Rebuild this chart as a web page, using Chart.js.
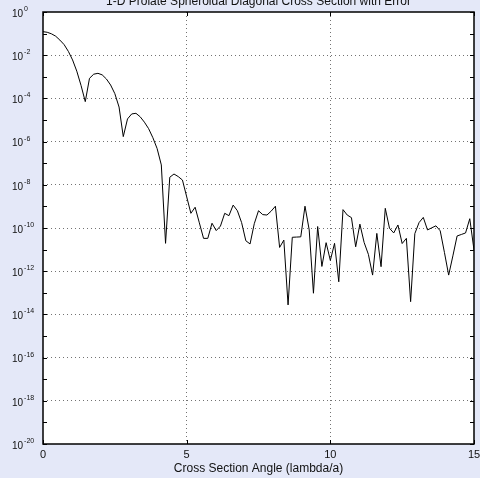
<!DOCTYPE html>
<html>
<head>
<meta charset="utf-8">
<script src="https://cdn.jsdelivr.net/npm/chart.js@4/dist/chart.umd.min.js"></script>
<style>
  html, body { margin: 0; padding: 0; background: #e4e8f8; }
  canvas { display: block; }
</style>
</head>
<body>
<canvas id="chart" width="480" height="478"></canvas>
<script>
// Sample angles (lambda/a)
const angle = [
  0.000, 0.147, 0.294, 0.441, 0.588, 0.735, 0.882, 1.029, 1.176, 1.324,
  1.471, 1.618, 1.765, 1.912, 2.059, 2.206, 2.353, 2.500, 2.647, 2.794,
  2.941, 3.088, 3.235, 3.382, 3.529, 3.676, 3.824, 3.971, 4.118, 4.265,
  4.412, 4.559, 4.706, 4.853, 5.000, 5.147, 5.294, 5.441, 5.588, 5.735,
  5.882, 6.029, 6.176, 6.324, 6.471, 6.618, 6.765, 6.912, 7.059, 7.206,
  7.353, 7.500, 7.647, 7.794, 7.941, 8.088, 8.235, 8.382, 8.529, 8.676,
  8.824, 8.971, 9.118, 9.265, 9.412, 9.559, 9.706, 9.853, 10.000, 10.147,
  10.294, 10.441, 10.588, 10.735, 10.882, 11.029, 11.176, 11.324, 11.471, 11.618,
  11.765, 11.912, 12.059, 12.206, 12.353, 12.500, 12.647, 12.794, 12.941, 13.088,
  13.235, 13.382, 13.529, 13.676, 13.824, 13.971, 14.118, 14.265, 14.412, 14.559,
  14.706, 14.853, 15.000
];

// Cross section error at each angle
const crossSection = [
  1.23e-1, 1.15e-1, 9.77e-2, 7.59e-2, 5.01e-2, 3.09e-2, 1.51e-2, 6.03e-3, 1.82e-3, 3.98e-4,
  7.08e-5, 8.51e-4, 1.32e-3, 1.45e-3, 1.23e-3, 7.94e-4, 4.17e-4, 1.66e-4, 3.98e-5, 1.70e-6,
  1.12e-5, 1.91e-5, 2.04e-5, 1.41e-5, 7.94e-6, 3.98e-6, 1.51e-6, 4.79e-7, 8.32e-8, 1.95e-11,
  2.24e-8, 3.16e-8, 2.40e-8, 1.66e-8, 2.82e-9, 4.79e-10, 9.12e-10, 1.74e-10, 3.31e-11, 3.31e-11,
  1.66e-10, 7.59e-11, 1.23e-10, 4.79e-10, 3.72e-10, 1.15e-9, 6.31e-10, 1.78e-10, 2.57e-11, 1.82e-11,
  1.58e-10, 6.31e-10, 4.17e-10, 3.98e-10, 6.03e-10, 1.02e-9, 1.26e-11, 2.75e-11, 2.75e-14, 3.72e-11,
  3.80e-11, 3.89e-11, 1.02e-9, 8.13e-11, 9.55e-14, 1.17e-10, 1.66e-12, 2.09e-11, 3.16e-12, 1.95e-11,
  3.24e-13, 7.08e-10, 3.98e-10, 3.02e-10, 1.35e-11, 1.51e-10, 2.14e-11, 6.03e-12, 6.61e-13, 5.62e-11,
  1.62e-12, 8.13e-10, 9.77e-11, 5.89e-11, 1.38e-10, 1.91e-11, 3.31e-11, 3.89e-14, 5.50e-11, 1.78e-10,
  3.09e-10, 8.13e-11, 1.02e-10, 1.26e-10, 7.41e-11, 7.41e-12, 6.61e-13, 5.13e-12, 4.27e-11, 5.01e-11,
  5.89e-11, 2.69e-10, 9.55e-12
];

// Axis ticks
const xTicks = [0, 5, 10, 15];
const yLabelExponents = [0, -2, -4, -6, -8, -10, -12, -14, -16, -18, -20];
const yDecadeExponents = [0, -1, -2, -3, -4, -5, -6, -7, -8, -9, -10, -11, -12, -13, -14, -15, -16, -17, -18, -19, -20];

const titleText = '1-D Prolate Spheroidal Diagonal Cross Section with Error';
const xTitleText = 'Cross Section Angle (lambda/a)';

const FONT = '"Liberation Sans", Arial, Helvetica, sans-serif';
const GRID_COLOR = 'rgba(0,0,0,0.55)';

const frameAndLabels = {
  id: 'frameAndLabels',
  beforeDraw(chart) {
    const { ctx, chartArea: a } = chart;
    ctx.save();
    ctx.fillStyle = '#ffffff';
    ctx.fillRect(a.left, a.top, a.right - a.left, a.bottom - a.top);
    ctx.restore();
  },
  afterDraw(chart) {
    const { ctx, chartArea: a } = chart;
    const xs = chart.scales.x, ys = chart.scales.y;
    ctx.save();
    ctx.strokeStyle = '#000';
    ctx.lineWidth = 1;
    // inward tick marks on left and right
    yDecadeExponents.forEach(e => {
      const y = Math.round(ys.getPixelForValue(Math.pow(10, e))) + 0.5;
      ctx.beginPath();
      ctx.moveTo(a.left, y); ctx.lineTo(a.left + 4, y);
      ctx.moveTo(a.right, y); ctx.lineTo(a.right - 4, y);
      ctx.stroke();
    });
    // inward tick marks on top and bottom
    xTicks.forEach(v => {
      const x = Math.round(xs.getPixelForValue(v)) + 0.5;
      ctx.beginPath();
      ctx.moveTo(x, a.bottom); ctx.lineTo(x, a.bottom - 4);
      ctx.moveTo(x, a.top); ctx.lineTo(x, a.top + 4);
      ctx.stroke();
    });
    // frame
    ctx.lineWidth = 1.5;
    ctx.strokeRect(a.left, a.top, a.right - a.left, a.bottom - a.top);

    ctx.fillStyle = '#111';
    // y labels: 10 with superscript exponent
    yLabelExponents.forEach(e => {
      const y = ys.getPixelForValue(Math.pow(10, e));
      ctx.font = '10px ' + FONT;
      ctx.textAlign = 'left';
      ctx.textBaseline = 'middle';
      ctx.fillText('10', 12, y + 2);
      const w = ctx.measureText('10').width;
      ctx.font = '7px ' + FONT;
      ctx.fillText(String(e), 12 + w + 1, y - 3);
    });
    // x labels
    ctx.font = '11px ' + FONT;
    ctx.textAlign = 'center';
    ctx.textBaseline = 'middle';
    xTicks.forEach(v => {
      ctx.fillText(String(v), xs.getPixelForValue(v), a.bottom + 11);
    });
    // axis title
    ctx.font = '12px ' + FONT;
    ctx.fillText(xTitleText, (a.left + a.right) / 2, a.bottom + 25);
    // chart title
    ctx.textBaseline = 'alphabetic';
    ctx.fillText(titleText, (a.left + a.right) / 2, 5);
    ctx.restore();
  }
};

new Chart(document.getElementById('chart'), {
  type: 'line',
  data: {
    datasets: [{
      data: angle.map((x, i) => ({ x: x, y: crossSection[i] })),
      borderColor: '#000',
      borderWidth: 1,
      pointRadius: 0,
      tension: 0,
      fill: false
    }]
  },
  options: {
    responsive: false,
    animation: false,
    events: [],
    layout: { padding: { left: 43, right: 6, top: 12, bottom: 34 } },
    plugins: { legend: { display: false }, tooltip: { enabled: false }, title: { display: false } },
    scales: {
      x: {
        type: 'linear',
        min: 0, max: 15,
        afterBuildTicks: s => { s.ticks = xTicks.map(v => ({ value: v })); },
        afterFit: s => { s.height = 0; },
        ticks: { display: false },
        border: { display: false, dash: [1, 3] },
        grid: {
          drawTicks: false,
          lineWidth: 1,
          color: c => (c.tick && (c.tick.value === 5 || c.tick.value === 10)) ? GRID_COLOR : 'rgba(0,0,0,0)'
        }
      },
      y: {
        type: 'logarithmic',
        min: 1e-20, max: 1,
        afterBuildTicks: s => { s.ticks = yLabelExponents.map(e => ({ value: Math.pow(10, e) })); },
        afterFit: s => { s.width = 0; },
        ticks: { display: false },
        border: { display: false, dash: [1, 3] },
        grid: {
          drawTicks: false,
          lineWidth: 1,
          color: c => {
            if (!c.tick) return 'rgba(0,0,0,0)';
            const e = Math.round(Math.log10(c.tick.value));
            return (e < 0 && e > -20) ? GRID_COLOR : 'rgba(0,0,0,0)';
          }
        }
      }
    }
  },
  plugins: [frameAndLabels]
});
</script>
</body>
</html>
